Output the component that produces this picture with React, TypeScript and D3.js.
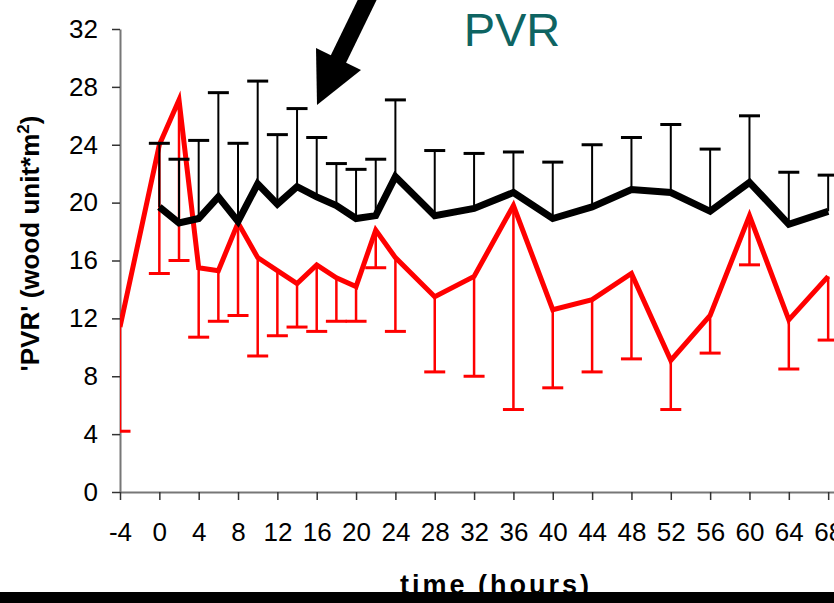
import * as d3 from "d3";
import React, { useRef, useEffect } from "react";

// black series (sampled every 2h to 24h, then every 4h)
const darkTimes = [0, 2, 4, 6, 8, 10, 12, 14, 16, 18, 20, 22, 24, 28, 32, 36, 40, 44, 48, 52, 56, 60, 64, 68];
const darkMean = [19.7, 18.6, 18.9, 20.4, 18.7, 21.3, 19.9, 21.1, 20.4, 19.8, 18.9, 19.1, 21.8, 19.1, 19.6, 20.7, 18.9, 19.7, 20.9, 20.7, 19.4, 21.4, 18.5, 19.4];
const darkUpper = [24.1, 23.0, 24.3, 27.6, 24.1, 28.4, 24.7, 26.5, 24.5, 22.7, 22.3, 23.0, 27.1, 23.6, 23.4, 23.5, 22.8, 24.0, 24.5, 25.4, 23.7, 26.0, 22.1, 21.9];

// red series (starts at -4h)
const redTimes = [-4, 0, 2, 4, 6, 8, 10, 12, 14, 16, 18, 20, 22, 24, 28, 32, 36, 40, 44, 48, 52, 56, 60, 64, 68];
const redMean = [11.4, 24.0, 27.1, 15.5, 15.3, 18.6, 16.2, 15.3, 14.4, 15.7, 14.8, 14.2, 18.1, 16.2, 13.5, 14.9, 19.8, 12.6, 13.3, 15.1, 9.1, 12.2, 19.1, 11.9, 14.9];
const redLower = [4.2, 15.1, 16.0, 10.7, 11.8, 12.2, 9.4, 10.8, 11.4, 11.1, 11.8, 11.8, 15.5, 11.1, 8.3, 8.0, 5.7, 7.2, 8.3, 9.2, 5.7, 9.6, 15.7, 8.5, 10.5];

const xTickValues = [-4, 0, 4, 8, 12, 16, 20, 24, 28, 32, 36, 40, 44, 48, 52, 56, 60, 64, 68, 72];
const yTickValues = [0, 4, 8, 12, 16, 20, 24, 28, 32];

const W = 834;
const H = 603;
const FONT = "'Liberation Sans', Arial, sans-serif";

const App = () => {
  const svgRef = useRef<SVGSVGElement>(null);

  useEffect(() => {
    const svg = d3.select(svgRef.current);
    svg.selectAll("*").remove();

    const x = d3.scaleLinear().domain([-4, 72]).range([120, 867.5]);
    const y = d3.scaleLinear().domain([0, 32]).range([492, 29]);

    const dark = darkTimes.map((t, i) => ({ t, v: darkMean[i], e: darkUpper[i] }));
    const red = redTimes.map((t, i) => ({ t, v: redMean[i], e: redLower[i] }));

    svg
      .append("defs")
      .append("clipPath")
      .attr("id", "plot")
      .append("rect")
      .attr("x", 120)
      .attr("y", 0)
      .attr("width", W - 120)
      .attr("height", 500);

    // axes (plain hyphen for negatives, like the original)
    const yAxis = svg
      .append("g")
      .attr("transform", "translate(120,0)")
      .call(d3.axisLeft(y).tickValues(yTickValues).tickSize(8).tickSizeOuter(0).tickPadding(14).tickFormat((d) => String(d)));
    const xAxis = svg
      .append("g")
      .attr("transform", "translate(0,492)")
      .call(d3.axisBottom(x).tickValues(xTickValues).tickSize(8).tickSizeOuter(0).tickPadding(23).tickFormat((d) => String(d)));

    [yAxis, xAxis].forEach((g) => {
      g.attr("font-family", FONT).attr("font-size", 26);
      g.select(".domain").attr("stroke", "#777").attr("stroke-width", 2);
      g.selectAll(".tick line").attr("stroke", "#333").attr("stroke-width", 1.5);
      g.selectAll(".tick text").attr("fill", "#000");
    });

    const plot = svg.append("g").attr("clip-path", "url(#plot)");
    const line = d3
      .line<{ t: number; v: number }>()
      .x((d) => x(d.t))
      .y((d) => y(d.v));

    const drawSeries = (data, color, width, barWidth) => {
      const g = plot.append("g");
      g.append("path")
        .datum(data)
        .attr("d", line)
        .attr("fill", "none")
        .attr("stroke", color)
        .attr("stroke-width", width);
      // error bars (one-sided)
      g.selectAll(".bar")
        .data(data)
        .enter()
        .append("line")
        .attr("x1", (d) => x(d.t))
        .attr("x2", (d) => x(d.t))
        .attr("y1", (d) => y(d.v))
        .attr("y2", (d) => y(d.e))
        .attr("stroke", color)
        .attr("stroke-width", barWidth);
      g.selectAll(".cap")
        .data(data)
        .enter()
        .append("line")
        .attr("x1", (d) => x(d.t) - 10.5)
        .attr("x2", (d) => x(d.t) + 10.5)
        .attr("y1", (d) => y(d.e))
        .attr("y2", (d) => y(d.e))
        .attr("stroke", color)
        .attr("stroke-width", 3);
    };

    drawSeries(red, "#ff0000", 5, 2.5);
    drawSeries(dark, "#000000", 7, 2);

    // arrow
    svg
      .append("line")
      .attr("x1", 372)
      .attr("y1", -10)
      .attr("x2", 337)
      .attr("y2", 62)
      .attr("stroke", "#000")
      .attr("stroke-width", 17);
    svg
      .append("polygon")
      .attr("points", "316,48 361,70 317,105")
      .attr("fill", "#000");

    svg
      .append("text")
      .attr("x", 512)
      .attr("y", 46)
      .attr("text-anchor", "middle")
      .attr("font-family", FONT)
      .attr("font-size", 47)
      .attr("fill", "#0e6462")
      .text("PVR");

    // y title
    const yt = svg
      .append("text")
      .attr("transform", "translate(39,243.5) rotate(-90)")
      .attr("text-anchor", "middle")
      .attr("font-family", FONT)
      .attr("font-weight", "bold")
      .attr("font-size", 26);
    yt.append("tspan").text("'PVR' (wood unit*m");
    yt.append("tspan").attr("font-size", 17).attr("dy", -10).text("2");
    yt.append("tspan").attr("dy", 10).text(")");

    svg
      .append("text")
      .attr("x", 496)
      .attr("y", 594)
      .attr("text-anchor", "middle")
      .attr("font-family", FONT)
      .attr("font-weight", "bold")
      .attr("font-size", 27)
      .attr("letter-spacing", 3)
      .text("time (hours)");

    svg.append("rect").attr("x", 0).attr("y", 592).attr("width", W).attr("height", 11).attr("fill", "#000");
  }, []);

  return (
    <div style={{ position: "fixed", left: 0, top: 0, width: W, height: H, background: "#fff" }}>
      <svg ref={svgRef} width={W} height={H} style={{ display: "block", overflow: "hidden" }}></svg>
    </div>
  );
};

export default App;
